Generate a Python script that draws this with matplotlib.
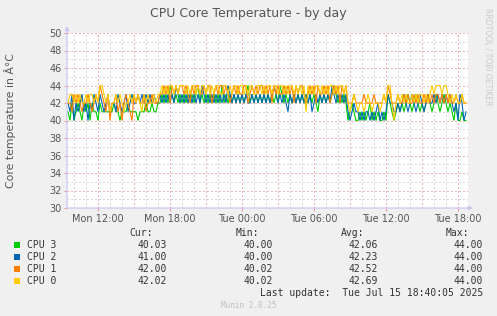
import numpy as np
import matplotlib
matplotlib.use("Agg")
import matplotlib.pyplot as plt
from matplotlib.patches import Rectangle

# ---- data (temperature samples, 10-minute steps from Mon 09:30 to Tue 18:40) ----
start_hour = 9.5          # hours since Mon 00:00
step_hour = 1.0 / 6.0

cpu0_digits = ("2332323223233232" "44" "32312232321223232321323223" "233"
               "4343443434" "4434344343" "4434343443" "3443434434" "4343443344"
               "3434434434" "4343443434" "3414343443" "4343443434" "434"
               "21232122123212221232" "44" "20"
               "232323223232332323" "43444344" "3232322322")
cpu1_digits = ("2213232122321232" "43" "21302231202321032322312232" "223"
               "3434243434" "4343243443" "3434423434" "4343234343" "3442343434"
               "4343424343" "3434342434" "4323434243" "3434234342" "434"
               "22232222322223222232" "43" "22"
               "232232322323223232" "32332323" "2322322322")
cpu2_digits = ("2130212312021321" "32" "12312213212312322323232323" "223"
               "2323232432" "3232323232" "4323232323" "2324323232" "3232232323"
               "2323234323" "2321323232" "3232312323" "2323243232" "323"
               "10121101011010120101" "32" "21"
               "121232123212321232" "23232323" "2321203201")
cpu3_digits = ("1020121021202110" "21" "11111211011121111011121121" "122"
               "3232432323" "2323232342" "3232323232" "4232323232" "3234232323"
               "2323232324" "3232323232" "3232323213" "2323234323" "232"
               "01210010101201010010" "32" "10"
               "121212321232121232" "12321232" "1210200100")

base_temp = 40
cpu0 = [base_temp + int(c) for c in cpu0_digits]
cpu1 = [base_temp + int(c) for c in cpu1_digits]
cpu2 = [base_temp + int(c) for c in cpu2_digits]
cpu3 = [base_temp + int(c) for c in cpu3_digits]

series_names = ["CPU 3", "CPU 2", "CPU 1", "CPU 0"]
series_values = [cpu3, cpu2, cpu1, cpu0]
series_colors = ["#00CC00", "#0066B3", "#FF8000", "#FFCC00"]
cur_vals = ["40.03", "41.00", "42.00", "42.02"]
min_vals = ["40.00", "40.00", "40.02", "40.02"]
avg_vals = ["42.06", "42.23", "42.52", "42.69"]
max_vals = ["44.00", "44.00", "44.00", "44.00"]

xtick_pos = [12, 18, 24, 30, 36, 42]
xtick_labels = ["Mon 12:00", "Mon 18:00", "Tue 00:00", "Tue 06:00", "Tue 12:00", "Tue 18:00"]
yticks = list(range(30, 51, 2))

# ---- figure ----
W, H = 497, 316
fig = plt.figure(figsize=(W / 100, H / 100), dpi=100, facecolor="#F0F0F0")
L, R, T, B = 67, 468, 33, 208
ax = fig.add_axes([L / W, 1 - B / H, (R - L) / W, (B - T) / H])
ax.set_facecolor("white")

t = start_hour + np.arange(len(cpu0)) * step_hour
for vals, col in zip(series_values, series_colors):
    ax.plot(t[:len(vals)], vals, color=col, lw=0.8, solid_joinstyle="miter", zorder=3)

x_left = 12 + (L - 98) / 12.0
x_right = 12 + (R - 98) / 12.0
ax.set_xlim(x_left, x_right)
ax.set_ylim(30, 50)

# grid
dot = (0, (1, 2))
red_grid = "#F0B4B4"
gray_grid = "#D9D9D9"
for h in np.arange(10, 43, 1):
    ax.axvline(h, color=red_grid if h % 3 == 0 else gray_grid, lw=1.0, ls=dot,
               zorder=0, antialiased=False)
for y in range(30, 51):
    ax.axhline(y, color=red_grid if y % 2 == 0 else gray_grid, lw=1.0, ls=dot,
               zorder=0, antialiased=False)

for s in ax.spines.values():
    s.set_visible(False)

ax.set_xticks(xtick_pos)
ax.set_xticklabels(xtick_labels)
ax.set_yticks(yticks)
ax.tick_params(axis="both", labelsize=7, labelcolor="#555555", length=2,
               width=0.7, color="#E89090", pad=2)

axis_col = "#C8C8F4"
ax.annotate("", xy=(0, 1 + 7 / (B - T)), xytext=(0, 0), xycoords="axes fraction",
            arrowprops=dict(arrowstyle="-|>", color=axis_col, lw=0.9, mutation_scale=6,
                            shrinkA=0, shrinkB=0))
ax.annotate("", xy=(1 + 5 / (R - L), 0), xytext=(0, 0), xycoords="axes fraction",
            arrowprops=dict(arrowstyle="-|>", color=axis_col, lw=0.9, mutation_scale=6,
                            shrinkA=0, shrinkB=0))

# texts
fig.text(248 / W, 1 - 13 / H, "CPU Core Temperature - by day", ha="center", va="center",
         fontsize=9, color="#555555")
fig.text(10 / W, 1 - 120.5 / H, "Core temperature in Â°C", rotation=90, ha="center",
         va="center", fontsize=7.8, color="#555555")
fig.text(488 / W, 1 - 57 / H, "RRDTOOL / TOBI OETIKER", rotation=270, ha="center",
         va="center", fontsize=5.5, color="#C8C8C8")

mono = "DejaVu Sans Mono"
tcol = "#333333"
hy = 233
for txt, xr in [("Cur:", 153), ("Min:", 259), ("Avg:", 364), ("Max:", 469)]:
    fig.text(xr / W, 1 - hy / H, txt, ha="right", va="center", family=mono, fontsize=7,
             color=tcol)
rows_y = [245, 257, 269, 281]
for i, (name, col) in enumerate(zip(series_names, series_colors)):
    y = rows_y[i]
    fig.patches.append(Rectangle((14 / W, 1 - (y + 3) / H), 6 / W, 6 / H,
                                 transform=fig.transFigure, facecolor=col, edgecolor="none"))
    fig.text(27 / W, 1 - y / H, name, ha="left", va="center", family=mono, fontsize=7,
             color=tcol)
    for vals, xr in [(cur_vals, 167), (min_vals, 273), (avg_vals, 378), (max_vals, 483)]:
        fig.text(xr / W, 1 - y / H, vals[i], ha="right", va="center", family=mono,
                 fontsize=7, color=tcol)
fig.text(483 / W, 1 - 293 / H, "Last update:  Tue Jul 15 18:40:05 2025", ha="right",
         va="center", family=mono, fontsize=7, color=tcol)
fig.text(249 / W, 1 - 305 / H, "Munin 2.0.25", ha="center", va="center", family=mono,
         fontsize=5.5, color="#BDBDBD")

fig.savefig("out.png", dpi=100, facecolor=fig.get_facecolor())
